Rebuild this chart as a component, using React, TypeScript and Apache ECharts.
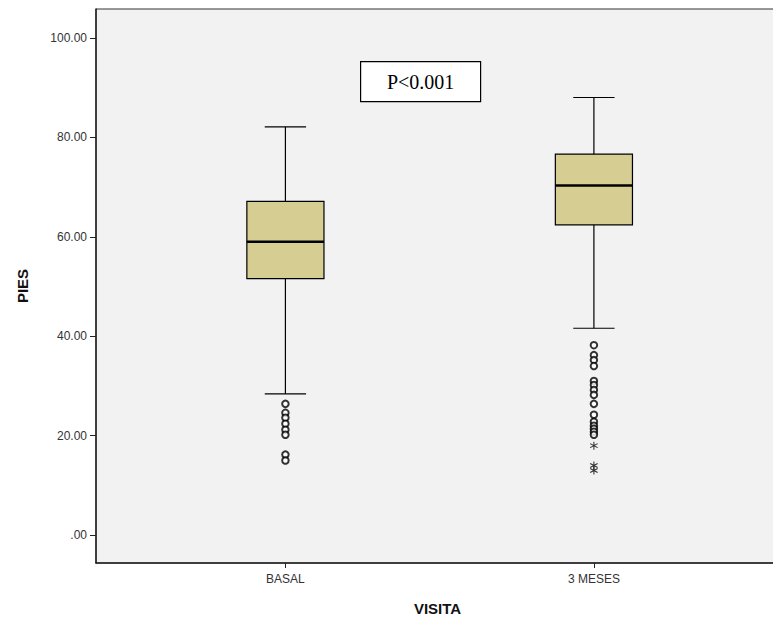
import React, { useEffect, useRef } from "react";
import * as echarts from "echarts";

const categories = ["BASAL", "3 MESES"];
const categoryPositions = [1, 2];
const whiskerLow = [28.4, 41.6];
const quartile1 = [51.6, 62.4];
const medians = [59.0, 70.3];
const quartile3 = [67.1, 76.6];
const whiskerHigh = [82.1, 88.0];
const basalOutliers = [26.4, 24.6, 23.6, 22.4, 21.2, 20.2, 16.2, 15.0];
const mesesOutliers = [38.2, 36.2, 35.2, 34.0, 31.0, 30.2, 29.2, 28.2, 26.4, 24.2, 22.8, 22.0, 21.4, 20.8, 20.2];
const mesesExtremes = [18.0, 14.0, 13.0];
const yTicks = [0, 20, 40, 60, 80, 100];

const ASTERISK =
  "path://M4.4,0L5.6,0L5.6,10L4.4,10Z M0.37,3.02L0.97,1.98L9.63,6.98L9.03,8.02Z M0.37,6.98L9.03,1.98L9.63,3.02L0.97,8.02Z";

export default function App() {
  const ref = useRef<HTMLDivElement>(null);
  useEffect(() => {
    if (!ref.current) return;
    const chart = echarts.init(ref.current, null, { renderer: "svg" });
    const boxData = categoryPositions.map((x, i) => [
      x,
      whiskerLow[i],
      quartile1[i],
      medians[i],
      quartile3[i],
      whiskerHigh[i],
    ]);
    const outlierData = [
      ...basalOutliers.map((v) => [categoryPositions[0], v]),
      ...mesesOutliers.map((v) => [categoryPositions[1], v]),
    ];
    const extremeData = mesesExtremes.map((v) => [categoryPositions[1], v]);

    chart.setOption({
      animation: false,
      backgroundColor: "#ffffff",
      grid: {
        left: 96,
        top: 9,
        right: -6,
        bottom: 57,
        outerBoundsMode: "none",
        containLabel: false,
        show: true,
        backgroundColor: "#f2f2f2",
        borderColor: "#333",
        borderWidth: 1,
      },
      xAxis: {
        type: "value",
        min: 0.386,
        max: 2.6,
        splitLine: { show: false },
        axisLine: { show: true, onZero: false, lineStyle: { color: "#222", width: 1.5 } },
        axisTick: {
          show: true,
          customValues: categoryPositions,
          length: 5,
          lineStyle: { color: "#222" },
        },
        axisLabel: {
          customValues: categoryPositions,
          formatter: (v: number) => categories[categoryPositions.indexOf(v)] ?? "",
          fontFamily: "Liberation Sans, Arial, sans-serif",
          fontSize: 12,
          color: "#333",
          margin: 10,
        },
        name: "VISITA",
        nameLocation: "middle",
        nameGap: 38,
        nameTextStyle: {
          fontFamily: "Liberation Sans, Arial, sans-serif",
          fontSize: 15,
          fontWeight: "bold",
          color: "#111",
        },
      },
      yAxis: {
        type: "value",
        min: -5.6,
        max: 105.8,
        splitLine: { show: false },
        axisLine: { show: true, onZero: false, lineStyle: { color: "#222", width: 1.5 } },
        axisTick: {
          show: true,
          customValues: yTicks,
          length: 6,
          lineStyle: { color: "#222" },
        },
        axisLabel: {
          customValues: yTicks,
          formatter: (v: number) => (v === 0 ? ".00" : v.toFixed(2)),
          fontFamily: "Liberation Sans, Arial, sans-serif",
          fontSize: 12,
          color: "#333",
          margin: 9,
        },
        name: "PIES",
        nameLocation: "middle",
        nameGap: 66,
        nameTextStyle: {
          fontFamily: "Liberation Sans, Arial, sans-serif",
          fontSize: 15,
          fontWeight: "bold",
          color: "#111",
        },
      },
      series: [
        {
          type: "custom",
          data: boxData,
          encode: { x: 0, y: [1, 2, 3, 4, 5] },
          z: 3,
          renderItem: (params: any, api: any) => {
            const x = api.value(0);
            const lo = api.coord([x, api.value(1)]);
            const b1 = api.coord([x, api.value(2)]);
            const md = api.coord([x, api.value(3)]);
            const b3 = api.coord([x, api.value(4)]);
            const hi = api.coord([x, api.value(5)]);
            const halfBox = api.size([0.25, 0])[0] / 2;
            const halfCap = api.size([0.134, 0])[0] / 2;
            const line = { stroke: "#000", lineWidth: 1.2 };
            return {
              type: "group",
              children: [
                { type: "line", shape: { x1: lo[0], y1: lo[1], x2: b1[0], y2: b1[1] }, style: line },
                { type: "line", shape: { x1: b3[0], y1: b3[1], x2: hi[0], y2: hi[1] }, style: line },
                { type: "line", shape: { x1: lo[0] - halfCap, y1: lo[1], x2: lo[0] + halfCap, y2: lo[1] }, style: line },
                { type: "line", shape: { x1: hi[0] - halfCap, y1: hi[1], x2: hi[0] + halfCap, y2: hi[1] }, style: line },
                {
                  type: "rect",
                  shape: { x: b3[0] - halfBox, y: b3[1], width: halfBox * 2, height: b1[1] - b3[1] },
                  style: { fill: "#d5cd92", stroke: "#000", lineWidth: 1.2 },
                },
                {
                  type: "line",
                  shape: { x1: md[0] - halfBox, y1: md[1], x2: md[0] + halfBox, y2: md[1] },
                  style: { stroke: "#000", lineWidth: 2.6 },
                },
              ],
            };
          },
        },
        {
          type: "scatter",
          data: outlierData,
          symbol: "emptyCircle",
          symbolSize: 6.5,
          itemStyle: { color: "#000", borderColor: "#000", borderWidth: 1.2 },
          z: 4,
        },
        {
          type: "scatter",
          data: extremeData,
          symbol: ASTERISK,
          symbolSize: 8,
          itemStyle: { color: "#000" },
          z: 4,
        },
      ],
      graphic: [
        {
          type: "group",
          left: 360,
          top: 61,
          children: [
            {
              type: "rect",
              shape: { x: 0, y: 0, width: 120, height: 40 },
              style: { fill: "#fff", stroke: "#000", lineWidth: 1.2 },
            },
            {
              type: "text",
              x: 60,
              y: 20,
              style: {
                text: "P<0.001",
                fontFamily: "Liberation Serif, Times New Roman, serif",
                fontSize: 20,
                fill: "#000",
                align: "center",
                verticalAlign: "middle",
              },
            },
          ],
        },
      ],
    });
    return () => chart.dispose();
  }, []);
  return (
    <div
      ref={ref}
      style={{ position: "fixed", left: 0, top: 0, width: 773, height: 620 }}
    />
  );
}
